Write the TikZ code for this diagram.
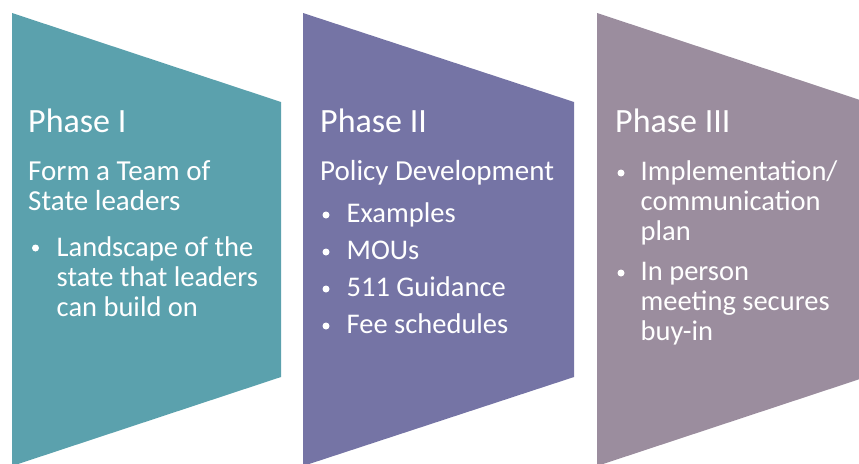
\documentclass[tikz,border=0pt]{standalone}
\usepackage{fontspec}
\setmainfont{Carlito}
\definecolor{tealc}{RGB}{91,161,173}
\definecolor{purplec}{RGB}{117,116,165}
\definecolor{mauvec}{RGB}{155,141,158}
\begin{document}
\begin{tikzpicture}[x=1pt,y=-1pt,
  titletext/.style={anchor=base west, inner sep=0pt, text=white, font=\fontsize{34}{40}\selectfont},
  subtext/.style={anchor=base west, inner sep=0pt, text=white, font=\fontsize{29}{32}\selectfont},
  bodytext/.style={anchor=base west, inner sep=0pt, text=white, font=\fontsize{28.5}{32}\selectfont},
  bulletdot/.style={circle, fill=white, inner sep=0pt, minimum size=7pt}]
\useasboundingbox (0,0) rectangle (859,463);
\clip (0,0) rectangle (859,463);
% shapes
\fill[tealc]   (12,13)  -- (281,102) -- (281,377) -- (12,466) -- cycle;
\fill[purplec] (303,13) -- (574,102) -- (574,377) -- (303,466) -- cycle;
\fill[mauvec]  (597,13) -- (866,102) -- (866,377) -- (597,466) -- cycle;
% Phase I
\node[titletext] (t1) at (28,132) {Phase I};
\node[subtext] (a1) at (28,180) {Form a Team of};
\node[subtext] (a2) at (28,210) {State leaders};
\node[bulletdot] (b1) at (35.5,248) {};
\node[bodytext] (a3) at (56.5,256) {Landscape of the};
\node[bodytext] (a4) at (56.5,286) {state that leaders};
\node[bodytext] (a5) at (56.5,316) {can build on};
% Phase II
\node[titletext] (t2) at (320,132) {Phase II};
\node[subtext] (c1) at (320,180) {Policy Development};
\node[bulletdot] (d1) at (326,215) {};
\node[bodytext] (c2) at (346.5,222.5) {Examples};
\node[bulletdot] (d2) at (326,252) {};
\node[bodytext] (c3) at (346.5,259.5) {MOUs};
\node[bulletdot] (d3) at (326,289) {};
\node[bodytext] (c4) at (346.5,296.5) {511 Guidance};
\node[bulletdot] (d4) at (326,326) {};
\node[bodytext] (c5) at (346.5,333.5) {Fee schedules};
% Phase III
\node[titletext] (t3) at (615,132) {Phase III};
\node[bulletdot] (e1) at (621,173) {};
\node[bodytext] (f1) at (640.5,180) {Implementation/};
\node[bodytext] (f2) at (640.5,210) {communication};
\node[bodytext] (f3) at (640.5,240) {plan};
\node[bulletdot] (e2) at (621,273) {};
\node[bodytext] (f4) at (640.5,280) {In person};
\node[bodytext] (f5) at (640.5,310) {meeting secures};
\node[bodytext] (f6) at (640.5,340) {buy-in};
\end{tikzpicture}
\end{document}
